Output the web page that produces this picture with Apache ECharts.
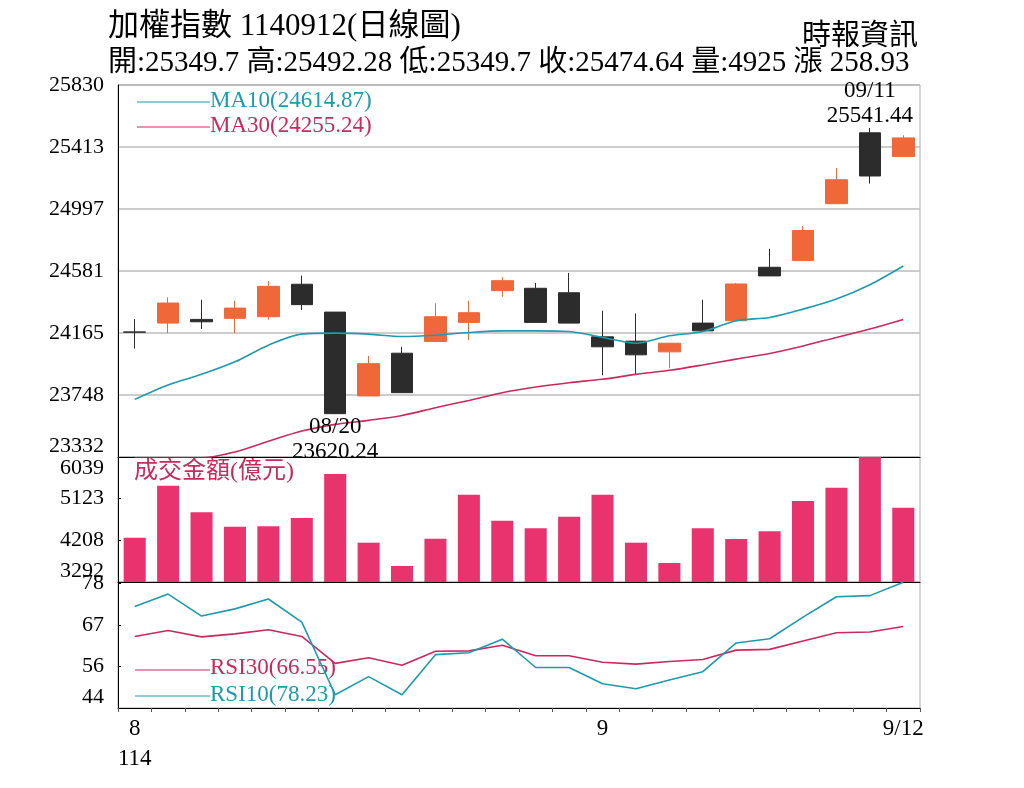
<!DOCTYPE html>
<html>
<head>
<meta charset="utf-8">
<script src="https://cdn.jsdelivr.net/npm/echarts@6/dist/echarts.min.js"></script>
<style>
  html, body { margin: 0; padding: 0; background: #fff; }
  #main { width: 1024px; height: 788px; }
</style>
</head>
<body>
<div id="main"></div>
<script>
// trading days 8/12 .. 9/12
var dates = ['08/12','08/13','08/14','08/15','08/18','08/19','08/20','08/21','08/22','08/25','08/26','08/27','08/28','08/29',
  '09/01','09/02','09/03','09/04','09/05','09/08','09/09','09/10','09/11','09/12'];

// [open, close, low, high]
var candles = [
  [24172, 24170, 24060, 24258],
  [24231, 24366, 24164, 24404],
  [24256, 24240, 24191, 24388],
  [24263, 24332, 24164, 24382],
  [24274, 24478, 24254, 24514],
  [24492, 24355, 24319, 24550],
  [24305, 23623, 23620.24, 24305],
  [23742, 23959, 23742, 24011],
  [24029, 23764, 23764, 24072],
  [24108, 24274, 24108, 24364],
  [24236, 24301, 24117, 24382],
  [24449, 24516, 24408, 24539],
  [24465, 24236, 24236, 24501],
  [24435, 24231, 24231, 24568],
  [24139, 24072, 23881, 24314],
  [24110, 24018, 23887, 24296],
  [24038, 24096, 23928, 24096],
  [24231, 24179, 24179, 24388],
  [24247, 24494, 24247, 24500],
  [24606, 24548, 24548, 24730],
  [24651, 24853, 24651, 24882],
  [25033, 25194, 25033, 25273],
  [25509, 25219, 25168, 25541.44],
  [25349.7, 25474.64, 25349.7, 25492.28]
];

var ma10 = [23719, 23816, 23887, 23971, 24083, 24157, 24164, 24157, 24141, 24150, 24168, 24179,
  24179, 24175, 24135, 24096, 24146, 24175, 24247, 24269, 24325, 24393, 24489, 24614.87];
var ma30 = [23326, 23326, 23326, 23366, 23438, 23506, 23551, 23578, 23611, 23663, 23712, 23764,
  23802, 23831, 23854, 23887, 23914, 23950, 23989, 24027, 24078, 24135, 24191, 24255.24];

var volume = [4266, 5409, 4823, 4508, 4515, 4699, 5665, 4156, 3644, 4244, 5211, 4640,
  4471, 4728, 5211, 4156, 3710, 4471, 4237, 4406, 5072, 5365, 6039, 4926];

var rsi10 = [71.8, 75.1, 69.3, 71.2, 73.8, 67.7, 48.5, 53.3, 48.5, 59.1, 59.6, 63.2,
  55.7, 55.7, 51.4, 50.1, 52.4, 54.6, 62.2, 63.3, 69.0, 74.4, 74.7, 78.23];
var rsi30 = [63.9, 65.5, 63.8, 64.6, 65.7, 63.9, 56.8, 58.3, 56.3, 60.0, 60.1, 61.6,
  58.8, 58.8, 57.1, 56.6, 57.3, 57.8, 60.3, 60.5, 62.7, 64.9, 65.1, 66.55];

var priceTicks = ['23332', '23748', '24165', '24581', '24997', '25413', '25830'];
var volTicks = ['3292', '4208', '5123', '6039'];
var rsiTicks = ['44', '56', '67', '78'];
var xLabels = { 0: '8\n114', 14: '9', 23: '9/12' };

var UP = '#f0673a', DOWN = '#2c2c2c';
var TEAL = '#1d9aae', RED = '#c92a5c', VOL = '#e8336f';
var FONT = '"Liberation Serif", "Noto Sans CJK TC", serif';

var chart = echarts.init(document.getElementById('main'));

function catAxis(grid, showLabel) {
  return {
    type: 'category', gridIndex: grid, data: dates, boundaryGap: true,
    axisLine: { show: true, lineStyle: { color: '#000', width: 1 } },
    axisTick: { show: showLabel, interval: 0, length: 4, lineStyle: { color: '#555' } },
    axisLabel: {
      show: showLabel, interval: 0, color: '#000', fontFamily: FONT, fontSize: 23,
      lineHeight: 30, align: 'center', margin: 6,
      formatter: function (v, i) { return xLabels[i] || ''; }
    },
    splitLine: { show: false }
  };
}

var labelBase = { color: '#000', fontFamily: FONT, fontSize: 22, margin: 14 };

var option = {
  backgroundColor: '#fff',
  animation: false,
  title: [
    { text: '加權指數 1140912(日線圖)', left: 103, top: 6,
      textStyle: { fontFamily: FONT, fontSize: 31, fontWeight: 'normal', color: '#000' } },
    { text: '開:25349.7 高:25492.28 低:25349.7 收:25474.64 量:4925 漲 258.93', left: 103, top: 44,
      textStyle: { fontFamily: FONT, fontSize: 29, fontWeight: 'normal', color: '#000' } },
    { text: '時報資訊', left: 797, top: 18,
      textStyle: { fontFamily: FONT, fontSize: 29, fontWeight: 'normal', color: '#000' } }
  ],
  grid: [
    { left: 118, width: 802, top: 85, height: 372, show: true, borderColor: '#aaa', borderWidth: 1 },
    { left: 118, width: 802, top: 457, height: 125, show: true, borderColor: '#aaa', borderWidth: 1 },
    { left: 118, width: 802, top: 582, height: 126, show: true, borderColor: '#aaa', borderWidth: 1 }
  ],
  xAxis: [catAxis(0, false), catAxis(1, false), catAxis(2, true)],
  yAxis: [
    {
      gridIndex: 0, min: 23332, max: 25830, interval: 2498 / 6,
      axisLine: { show: true, lineStyle: { color: '#000' } }, axisTick: { show: false },
      axisLabel: Object.assign({}, labelBase, {
        verticalAlignMaxLabel: 'top', verticalAlignMinLabel: 'bottom',
        formatter: function (v) { return priceTicks[Math.round((v - 23332) / (2498 / 6))]; }
      }),
      splitLine: { show: true, lineStyle: { color: '#bbb', width: 1.5 } }
    },
    {
      gridIndex: 1, min: 3292, max: 6039, interval: 2747 / 3,
      axisLine: { show: true, lineStyle: { color: '#000' } }, axisTick: { show: true, inside: true, length: 3 },
      axisLabel: Object.assign({}, labelBase, {
        verticalAlignMaxLabel: 'top', verticalAlignMinLabel: 'bottom',
        formatter: function (v) { return volTicks[Math.round((v - 3292) / (2747 / 3))]; }
      }),
      splitLine: { show: false }
    },
    {
      gridIndex: 2, min: 45, max: 78.3, interval: 11,
      axisLine: { show: true, lineStyle: { color: '#000' } }, axisTick: { show: true, inside: true, length: 3 },
      axisLabel: Object.assign({}, labelBase, {
        verticalAlignMaxLabel: 'top', verticalAlignMinLabel: 'bottom',
        formatter: function (v) { return rsiTicks[Math.round((v - 45) / 11)]; }
      }),
      splitLine: { show: false }
    }
  ],
  series: [
    {
      type: 'candlestick', xAxisIndex: 0, yAxisIndex: 0, data: candles, barWidth: '66%',
      itemStyle: { color: UP, borderColor: UP, color0: DOWN, borderColor0: DOWN, borderWidth: 1 },
      markPoint: {
        symbol: 'circle', symbolSize: 0,
        label: { show: true, color: '#000', fontFamily: FONT, fontSize: 23, lineHeight: 25 },
        data: [
          { coord: [6, 23620.24], value: '08/20\n23620.24', label: { position: 'bottom', distance: 0 } },
          { coord: [22, 25541.44], value: '09/11\n25541.44', label: { position: 'top', distance: 0 } }
        ]
      }
    },
    { type: 'line', xAxisIndex: 0, yAxisIndex: 0, data: ma10, symbol: 'none', smooth: 0.3,
      lineStyle: { color: TEAL, width: 1.6 } },
    { type: 'line', xAxisIndex: 0, yAxisIndex: 0, data: ma30, symbol: 'none', smooth: 0.3,
      lineStyle: { color: RED, width: 1.6 } },
    { type: 'bar', xAxisIndex: 1, yAxisIndex: 1, data: volume, barWidth: '66%',
      itemStyle: { color: VOL } },
    { type: 'line', xAxisIndex: 2, yAxisIndex: 2, data: rsi30, symbol: 'none',
      lineStyle: { color: RED, width: 1.6 } },
    { type: 'line', xAxisIndex: 2, yAxisIndex: 2, data: rsi10, symbol: 'none',
      lineStyle: { color: TEAL, width: 1.6 } }
  ],
  graphic: [
    { type: 'line', shape: { x1: 137, y1: 102, x2: 210, y2: 102 }, style: { stroke: TEAL, lineWidth: 1.2 } },
    { type: 'text', left: 210, top: 89, style: { text: 'MA10(24614.87)', fill: TEAL, font: '23px ' + FONT } },
    { type: 'line', shape: { x1: 137, y1: 127, x2: 210, y2: 127 }, style: { stroke: RED, lineWidth: 1.2 } },
    { type: 'text', left: 210, top: 114, style: { text: 'MA30(24255.24)', fill: RED, font: '23px ' + FONT } },
    { type: 'text', left: 134, top: 460, style: { text: '成交金額(億元)', fill: RED, font: '24px ' + FONT } },
    { type: 'line', shape: { x1: 135, y1: 670, x2: 210, y2: 670 }, style: { stroke: RED, lineWidth: 1.2 } },
    { type: 'text', left: 210, top: 656, style: { text: 'RSI30(66.55)', fill: RED, font: '23px ' + FONT } },
    { type: 'line', shape: { x1: 135, y1: 696, x2: 210, y2: 696 }, style: { stroke: TEAL, lineWidth: 1.2 } },
    { type: 'text', left: 210, top: 683, style: { text: 'RSI10(78.23)', fill: TEAL, font: '23px ' + FONT } }
  ]
};

chart.setOption(option);
</script>
</body>
</html>
